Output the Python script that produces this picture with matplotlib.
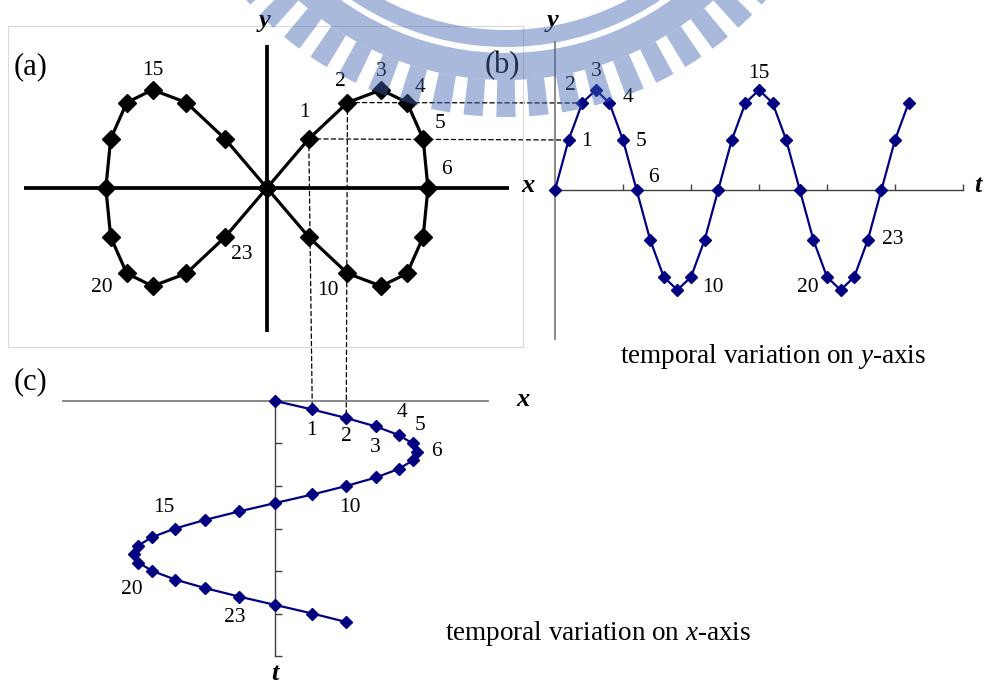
import matplotlib
matplotlib.use('Agg')
import matplotlib.pyplot as plt
from matplotlib.patches import Wedge, ConnectionPatch

plt.rcParams['font.family'] = ['Liberation Serif', 'DejaVu Serif']
plt.rcParams['mathtext.fontset'] = 'custom'
plt.rcParams['mathtext.rm'] = 'Liberation Serif'
plt.rcParams['mathtext.it'] = 'Liberation Serif:italic'

# time steps and the two coordinates of the moving point
t = [0, 1, 2, 3, 4, 5, 6, 7, 8, 9, 10, 11, 12, 13,
     14, 15, 16, 17, 18, 19, 20, 21, 22, 23, 24, 25, 26]
x_val = [0, 0.26, 0.5, 0.71, 0.87, 0.97, 1, 0.97, 0.87, 0.71, 0.5, 0.26, 0,
         -0.26, -0.5, -0.71, -0.87, -0.97, -1, -0.97, -0.87, -0.71, -0.5, -0.26,
         0, 0.26, 0.5]
y_val = [0, 0.5, 0.87, 1, 0.87, 0.5, 0, -0.5, -0.87, -1, -0.87, -0.5, 0,
         0.5, 0.87, 1, 0.87, 0.5, 0, -0.5, -0.87, -1, -0.87, -0.5,
         0, 0.5, 0.87]
n_loop = 24  # points 0..23 make the figure eight

# labelled points and label offsets (pixels)
lab_a = {1: (-4, 26), 2: (-7, 21), 3: (0, 18), 4: (13, 15), 5: (17, 15),
         6: (18, 18), 10: (-20, -17), 15: (0, 19), 20: (-25, -14), 23: (17, -17)}
lab_b = {1: (18, -2), 2: (-12, 18), 3: (0, 18), 4: (19, 5), 5: (18, -1),
         6: (17, 12), 10: (22, -11), 15: (0, 17), 20: (-19, -11), 23: (25, 1)}
lab_c = {1: (-1, -21), 2: (0, -19), 3: (-1, -21), 4: (3, 22), 5: (7, 18),
         6: (19, 0), 10: (4, -22), 15: (-11, 21), 20: (-21, -19), 23: (-4, -21)}

W, H = 987, 684
fig = plt.figure(figsize=(W / 100, H / 100), dpi=100)


def px_axes(x0, y0, x1, y1, **kw):
    return fig.add_axes([x0 / W, 1 - y1 / H, (x1 - x0) / W, (y1 - y0) / H], **kw)


def ftext(px, py, s, **kw):
    fig.text(px / W, 1 - py / H, s, ha='center', va='center', **kw)


navy = '#000080'
num_fs = 15.5

# ---- (a) figure eight
ax_a = px_axes(7.6, 26, 523, 347)
ax_a.set_facecolor('none')
ax_a.set_xlim(-1.61, 1.59)
ax_a.set_ylim(-1.62, 1.65)
ax_a.set_xticks([])
ax_a.set_yticks([])
for s in ax_a.spines.values():
    s.set_color('#d9d9d9')
    s.set_linewidth(0.8)
ax_a.plot([-1.51, 1.50], [0, 0], color='k', lw=2.7, solid_capstyle='butt')
ax_a.plot([0, 0], [-1.47, 1.46], color='k', lw=2.7, solid_capstyle='butt')
xa = x_val[:n_loop] + [x_val[0]]
ya = y_val[:n_loop] + [y_val[0]]
ax_a.plot(xa, ya, color='k', lw=2.3, marker='D', ms=9, zorder=3)
for k, off in lab_a.items():
    ax_a.annotate(str(k), (x_val[k], y_val[k]), xytext=off, textcoords='offset pixels',
                  ha='center', va='center', fontsize=num_fs)

# ---- (b) y against t
ax_b = px_axes(555, 42, 963, 339)
ax_b.set_facecolor('none')
ax_b.set_xlim(0, 30)
ax_b.set_ylim(-1.49, 1.48)
ax_b.spines['top'].set_visible(False)
ax_b.spines['right'].set_visible(False)
ax_b.spines['bottom'].set_position(('data', 0))
ax_b.spines['left'].set_color('#7f7f7f')
ax_b.spines['left'].set_linewidth(1.3)
ax_b.spines['bottom'].set_color('#404040')
ax_b.spines['bottom'].set_linewidth(1.0)
ax_b.set_xticks([5, 10, 15, 20, 25, 30])
ax_b.set_yticks([])
ax_b.tick_params(axis='x', direction='in', length=4, width=1, color='#404040', labelbottom=False)
ax_b.plot(t, y_val, color=navy, lw=1.6, marker='D', ms=6, clip_on=False, zorder=3)
for k, off in lab_b.items():
    ax_b.annotate(str(k), (t[k], y_val[k]), xytext=off, textcoords='offset pixels',
                  ha='center', va='center', fontsize=num_fs)

# ---- (c) x against t (t downwards)
ax_c = px_axes(63, 401, 488, 656)
ax_c.set_facecolor('none')
ax_c.set_xlim(-1.502, 1.502)
ax_c.set_ylim(30, 0)
ax_c.spines['bottom'].set_visible(False)
ax_c.spines['right'].set_visible(False)
ax_c.spines['left'].set_position(('data', 0))
ax_c.spines['top'].set_color('#7f7f7f')
ax_c.spines['top'].set_linewidth(1.3)
ax_c.spines['left'].set_color('#404040')
ax_c.spines['left'].set_linewidth(1.0)
ax_c.set_yticks([5, 10, 15, 20, 25, 30])
ax_c.set_xticks([])
ax_c.tick_params(axis='y', direction='in', length=5, width=1, color='#404040', labelleft=False)
ax_c.plot(x_val, t, color=navy, lw=1.6, marker='D', ms=6, clip_on=False, zorder=3)
for k, off in lab_c.items():
    ax_c.annotate(str(k), (x_val[k], t[k]), xytext=off, textcoords='offset pixels',
                  ha='center', va='center', fontsize=num_fs)

# dashed guide lines between panels
for k in (1, 2):
    for axB, xyB in ((ax_b, (t[k], y_val[k])), (ax_c, (x_val[k], t[k]))):
        con = ConnectionPatch(xyA=(x_val[k], y_val[k]), coordsA=ax_a.transData,
                              xyB=xyB, coordsB=axB.transData,
                              color='k', lw=0.9, ls=(0, (3.5, 2.5)), zorder=-1)
        fig.add_artist(con)

# axis names, panel tags, captions
ax_kw = dict(fontsize=19, fontweight='bold', fontstyle='italic')
ftext(265, 20, 'y', **ax_kw)
ftext(528, 186, 'x', **ax_kw)
ftext(553, 21, 'y', **ax_kw)
ftext(978, 185, 't', **ax_kw)
ftext(523, 400, 'x', **ax_kw)
ftext(275, 673, 't', **ax_kw)
ftext(31, 67, '(a)', fontsize=22)
ftext(502, 66, '(b)', fontsize=22)
ftext(31, 382, '(c)', fontsize=22)
ftext(773, 357, 'temporal variation on $y$-axis', fontsize=19.5)
ftext(598, 633, 'temporal variation on $x$-axis', fontsize=19.5)

# faint logo watermark across the top
ax_w = fig.add_axes([0, 0, 1, 1], zorder=10)
ax_w.set_facecolor('none')
ax_w.axis('off')
ax_w.set_xlim(0, W)
ax_w.set_ylim(H, 0)
wm = dict(facecolor='#4264b1', alpha=0.45, lw=0)
cx, cy = 506, -230
ax_w.add_patch(Wedge((cx, cy), 277, 0, 180, width=17, **wm))
ax_w.add_patch(Wedge((cx, cy), 310, 0, 180, width=27, **wm))
for i in range(-14, 15):
    a = 90 - 5.45 * i
    ax_w.add_patch(Wedge((cx, cy), 347, a - 1.6, a + 1.6, width=37, **wm))

fig.savefig('out.png', dpi=100)
